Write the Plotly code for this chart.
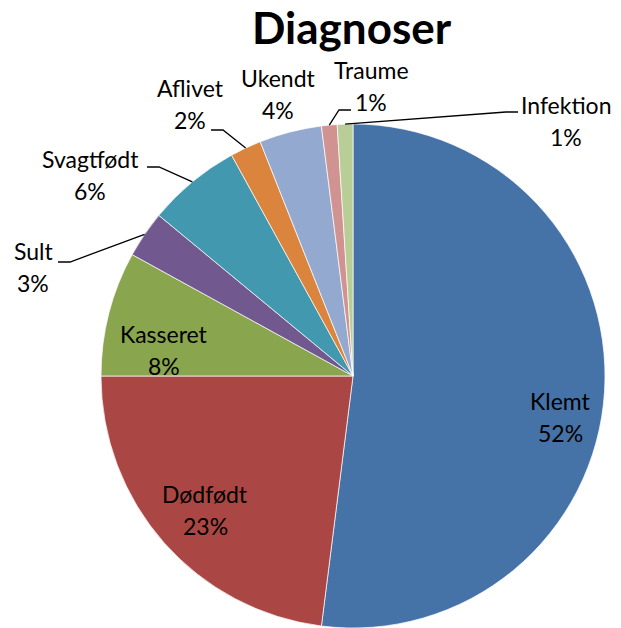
import math
import plotly.graph_objects as go

# Diagnosis categories and their shares (percent)
labels = ["Klemt", "Dødfødt", "Kasseret", "Sult", "Svagtfødt",
          "Aflivet", "Ukendt", "Traume", "Infektion"]
values = [52, 23, 8, 3, 6, 2, 4, 1, 1]
colors = ["#4572A7", "#AA4643", "#89A54E", "#71588F", "#4198AF",
          "#DB843D", "#93A9CF", "#D19392", "#B9CD96"]

W, H = 621, 628
CX, CY, R = 353, 376, 252  # pie centre and radius in pixels

# Label block centres (pixels) and, for outside labels, where the leader line starts
label_pos = {
    "Klemt": (560, 417), "Dødfødt": (205, 510), "Kasseret": (164, 350),
    "Sult": (33, 267), "Svagtfødt": (90, 175), "Aflivet": (190, 104),
    "Ukendt": (278, 94), "Traume": (371, 86), "Infektion": (566, 121),
}
leader_start = {
    "Sult": (58, 262), "Svagtfødt": (147, 167), "Aflivet": (211, 130),
    "Traume": (351, 110), "Infektion": (518, 112),
}

FONT = "Lato"
LABEL_SIZE = 23
LINE_GAP = 16

def px(x):
    return x / W

def py(y):
    return 1 - y / H

fig = go.Figure(go.Pie(
    labels=labels, values=values, sort=False, direction="clockwise",
    rotation=0, textinfo="none", hoverinfo="label+percent",
    marker=dict(colors=colors, line=dict(color="rgba(255,255,255,0.7)", width=1)),
    domain=dict(x=[px(CX - R), px(CX + R)], y=[py(CY + R), py(CY - R)]),
    showlegend=False,
))

total = sum(values)
annotations = []
shapes = []
cum = 0
for lab, val in zip(labels, values):
    mid = (cum + val / 2) / total * 2 * math.pi
    cum += val
    pct = f"{round(val / total * 100)}%"
    lx, ly = label_pos[lab]
    for txt, dy in ((lab, -LINE_GAP), (pct, LINE_GAP)):
        annotations.append(dict(
            x=px(lx), y=py(ly + dy), xref="paper", yref="paper",
            text=txt, showarrow=False, xanchor="center", yanchor="middle",
            font=dict(family=FONT, size=LABEL_SIZE, color="#000000"),
        ))
    if lab in leader_start:
        sx, sy = leader_start[lab]
        ex = CX + R * math.sin(mid)
        ey = CY - R * math.cos(mid)
        bx = sx + (12 if ex > sx else -12)
        path = f"M {px(sx)},{py(sy)} L {px(bx)},{py(sy)} L {px(ex)},{py(ey)}"
        shapes.append(dict(type="path", path=path, xref="paper", yref="paper",
                           line=dict(color="#000000", width=1.3)))

annotations.append(dict(
    x=px(352), y=py(27), xref="paper", yref="paper", text="<b>Diagnoser</b>",
    showarrow=False, xanchor="center", yanchor="middle",
    font=dict(family=FONT, size=44, color="#000000"),
))

fig.update_layout(
    width=W, height=H, margin=dict(l=0, r=0, t=0, b=0),
    paper_bgcolor="#FFFFFF", plot_bgcolor="#FFFFFF",
    annotations=annotations, shapes=shapes,
)

fig.write_html("out.html")
